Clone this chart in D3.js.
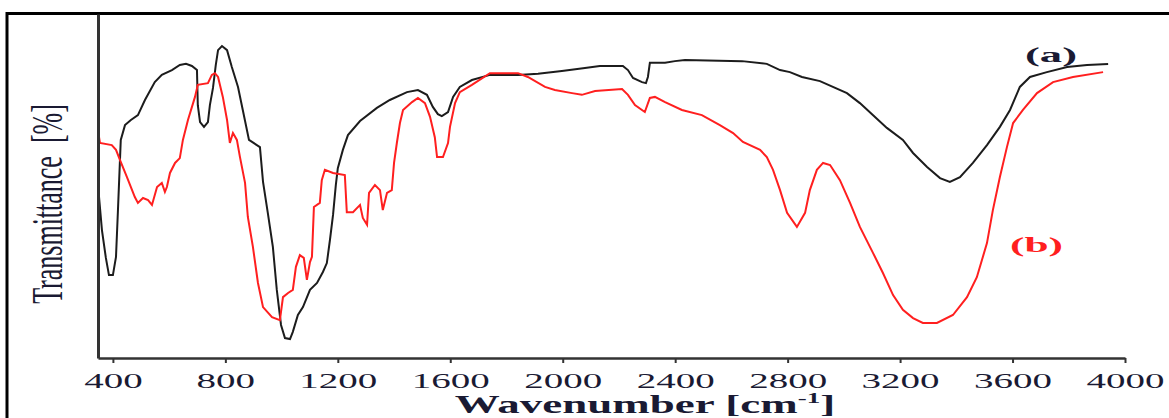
<!DOCTYPE html>
<html>
<head>
<meta charset="utf-8">
<script src="https://cdn.jsdelivr.net/npm/d3@7"></script>
<style>
  html, body { margin: 0; padding: 0; background: #fff; }
  svg { display: block; }
</style>
</head>
<body>
<svg id="chart"></svg>
<script>
// FTIR spectra, wavenumber (cm-1) vs transmittance (a.u.)
const xTicks = [400, 800, 1200, 1600, 2000, 2400, 2800, 3200, 3600, 4000]

const waveA = [350, 361, 375, 386, 400, 411, 418, 428, 443, 464, 489, 514, 549, 574, 610, 638, 660, 681, 699, 702,
  710, 724, 738, 745, 756, 766, 774, 788, 806, 823, 845, 862, 884, 912, 923, 934, 951, 969, 983, 998,
  1012, 1030, 1040, 1058, 1076, 1101, 1126, 1147, 1161, 1172, 1183, 1193, 1200, 1218, 1236, 1279, 1339, 1385, 1446, 1485,
  1517, 1538, 1556, 1570, 1592, 1610, 1634, 1677, 1741, 1841, 1912, 1997, 2079, 2132, 2214, 2232, 2250, 2282, 2296, 2303,
  2310, 2364, 2399, 2435, 2638, 2726, 2773, 2808, 2851, 2915, 2961, 3011, 3057, 3104, 3153, 3210, 3246, 3296, 3342, 3377,
  3413, 3459, 3509, 3555, 3591, 3626, 3662, 3722, 3794, 3865, 3940]
const transA = [47.4, 37.2, 29.1, 24.1, 24.1, 29.4, 43.0, 63.4, 67.7, 69.2, 70.6, 75.0, 80.2, 82.3, 83.7, 85.2, 85.5, 84.9, 83.7, 73.5,
  68.6, 67.2, 68.6, 73.5, 78.5, 85.2, 89.5, 90.7, 89.5, 84.6, 78.8, 72.1, 63.4, 61.9, 61.3, 51.2, 42.2, 32.3, 19.8, 9.6,
  5.8, 5.5, 7.6, 12.5, 14.8, 19.8, 21.8, 25.0, 27.6, 34.3, 41.6, 50.3, 55.2, 60.5, 64.8, 68.9, 72.7, 75.0, 77.3, 77.9,
  76.5, 73.0, 70.9, 70.3, 71.5, 75.9, 78.8, 80.8, 82.3, 82.3, 82.6, 83.4, 84.3, 84.9, 84.9, 83.7, 81.4, 80.2, 79.9, 81.7,
  85.8, 85.8, 86.3, 86.6, 86.3, 85.5, 83.7, 83.1, 81.7, 80.5, 78.8, 77.0, 74.1, 70.6, 66.9, 63.4, 59.6, 55.5, 52.3, 51.2,
  52.6, 56.7, 61.9, 67.2, 72.1, 78.8, 81.7, 83.1, 84.6, 85.2, 85.5]

const waveB = [347, 354, 396, 411, 425, 450, 478, 489, 507, 525, 539, 557, 574, 585, 592, 603, 621, 638, 649, 667,
  692, 702, 738, 752, 763, 774, 791, 806, 816, 827, 841, 852, 870, 880, 898, 916, 934, 966, 994, 1005,
  1023, 1040, 1051, 1065, 1079, 1090, 1101, 1108, 1115, 1136, 1143, 1154, 1183, 1225, 1232, 1254, 1279, 1289, 1304, 1311,
  1332, 1350, 1360, 1375, 1392, 1400, 1410, 1421, 1432, 1464, 1485, 1510, 1528, 1545, 1553, 1574, 1592, 1599, 1617, 1634,
  1677, 1741, 1841, 1876, 1937, 1972, 2033, 2068, 2115, 2211, 2232, 2257, 2292, 2310, 2328, 2364, 2424, 2495, 2559, 2606,
  2641, 2702, 2726, 2748, 2773, 2798, 2833, 2862, 2879, 2904, 2926, 2951, 2986, 3022, 3057, 3104, 3139, 3175, 3210, 3246,
  3281, 3331, 3388, 3438, 3473, 3509, 3530, 3555, 3580, 3602, 3637, 3687, 3744, 3815, 3922]
const transB = [66.0, 62.5, 61.9, 60.5, 57.6, 52.6, 46.8, 45.1, 46.5, 45.9, 44.5, 49.7, 50.9, 48.3, 49.7, 53.8, 56.7, 58.1, 63.4, 69.2,
  75.9, 79.4, 79.9, 82.3, 82.8, 81.7, 75.9, 69.2, 62.5, 65.4, 63.4, 58.4, 50.9, 41.0, 32.3, 21.8, 14.8, 11.9, 11.0, 17.7,
  18.9, 19.8, 26.5, 29.9, 29.1, 22.7, 27.9, 29.4, 43.9, 45.1, 51.7, 54.7, 53.8, 53.2, 42.4, 42.4, 44.5, 40.7, 38.7, 48.0,
  50.3, 48.8, 43.0, 48.0, 48.8, 56.7, 62.5, 68.3, 72.1, 74.4, 75.6, 74.1, 70.1, 64.2, 58.4, 58.4, 62.5, 67.2, 74.1, 77.3,
  79.4, 82.8, 82.8, 81.7, 78.8, 77.9, 77.0, 76.5, 77.6, 78.2, 76.5, 73.5, 71.5, 75.6, 75.9, 74.4, 72.1, 70.6, 67.7, 65.4,
  62.8, 60.5, 58.4, 54.7, 48.8, 42.2, 38.1, 42.2, 48.8, 54.7, 56.7, 56.1, 51.7, 45.1, 38.1, 30.5, 24.7, 18.3, 14.0, 11.6,
  10.2, 10.2, 12.5, 17.7, 23.5, 33.4, 43.0, 52.6, 61.3, 68.3, 72.1, 77.0, 80.2, 81.7, 83.1]

const seriesLabels = ['(a)', '(b)']
const xTitle = 'Wavenumber [cm'
const yTitle = 'Transmittance  [%]'

const width = 1169
const height = 418
const textColor = '#1a1a33'

const svg = d3.select('#chart')
    .attr('width', width)
    .attr('height', height)

// outer frame (runs off right and bottom edge like the source)
svg.append('rect')
    .attr('x', 7)
    .attr('y', 13.5)
    .attr('width', 1300)
    .attr('height', 500)
    .attr('fill', 'none')
    .attr('stroke', '#000')
    .attr('stroke-width', 3)

const xScale = d3.scaleLinear()
    .domain([347, 4000])
    .range([98, 1125])
const yScale = d3.scaleLinear()
    .domain([0, 100])
    .range([358, 14])

const line = d3.line()
    .x(d => xScale(d[0]))
    .y(d => yScale(d[1]))

const dataA = waveA.map((w, i) => [w, transA[i]])
const dataB = waveB.map((w, i) => [w, transB[i]])

svg.append('path')
    .datum(dataA)
    .attr('d', line)
    .attr('fill', 'none')
    .attr('stroke', '#1c1c1c')
    .attr('stroke-width', 2)

svg.append('path')
    .datum(dataB)
    .attr('d', line)
    .attr('fill', 'none')
    .attr('stroke', '#ff1f1f')
    .attr('stroke-width', 2)

// axes
const xAxis = d3.axisBottom(xScale)
    .tickValues(xTicks)
    .tickSizeInner(5)
    .tickSizeOuter(0)
    .tickPadding(9)
    .tickFormat(d3.format('d'))

const gx = svg.append('g')
    .attr('transform', `translate(0, ${yScale(0)})`)
    .call(xAxis)
gx.select('.domain').attr('stroke', '#333').attr('stroke-width', 2.5)
gx.selectAll('.tick line').attr('stroke', '#333').attr('stroke-width', 2)
gx.selectAll('.tick text')
    .attr('font-family', '"Liberation Serif", "Times New Roman", serif')
    .attr('font-size', 22)
    .attr('fill', textColor)
    .attr('textLength', d => String(d).length * 19.5)
    .attr('lengthAdjust', 'spacingAndGlyphs')

const yAxis = d3.axisLeft(yScale)
    .tickValues([])
    .tickSizeOuter(0)

const gy = svg.append('g')
    .attr('transform', `translate(${xScale(347)}, 0)`)
    .call(yAxis)
gy.select('.domain').attr('stroke', '#333').attr('stroke-width', 3)

// axis titles
const xt = svg.append('text')
    .attr('transform', 'translate(645, 413) scale(1.8, 1)')
    .attr('text-anchor', 'middle')
    .attr('font-family', '"Liberation Serif", "Times New Roman", serif')
    .attr('font-weight', 'bold')
    .attr('font-size', 25)
    .attr('fill', textColor)
xt.append('tspan').text(xTitle)
xt.append('tspan').attr('dy', -10).attr('font-size', 15).text('-1')
xt.append('tspan').attr('dy', 10).text(']')

svg.append('text')
    .attr('transform', 'translate(62, 204) scale(1.72, 1) rotate(-90)')
    .attr('text-anchor', 'middle')
    .attr('font-family', '"Liberation Serif", "Times New Roman", serif')
    .attr('font-size', 26)
    .attr('fill', textColor)
    .style('white-space', 'pre')
    .text(yTitle)

// series labels
svg.append('text')
    .attr('x', 1025)
    .attr('y', 62)
    .attr('font-family', '"Liberation Serif", "Times New Roman", serif')
    .attr('font-weight', 'bold')
    .attr('font-size', 22)
    .attr('fill', textColor)
    .attr('textLength', 52)
    .attr('lengthAdjust', 'spacingAndGlyphs')
    .text(seriesLabels[0])

svg.append('text')
    .attr('x', 1010)
    .attr('y', 252)
    .attr('font-family', '"Liberation Serif", "Times New Roman", serif')
    .attr('font-weight', 'bold')
    .attr('font-size', 22)
    .attr('fill', '#ff1f1f')
    .attr('textLength', 53)
    .attr('lengthAdjust', 'spacingAndGlyphs')
    .text(seriesLabels[1])
</script>
</body>
</html>
